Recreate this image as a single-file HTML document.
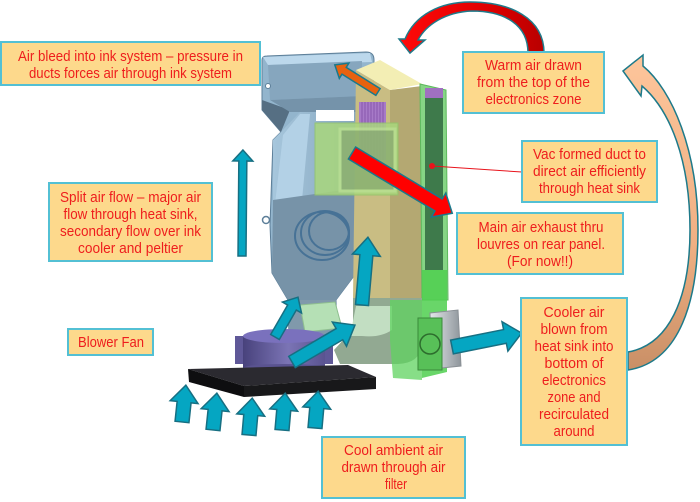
<!DOCTYPE html>
<html><head><meta charset="utf-8">
<style>
html,body{margin:0;padding:0;background:#fff;}
svg{display:block;}
text{font-family:"Liberation Sans",sans-serif;font-size:15px;fill:#ee1d1d;}
</style></head>
<body>
<svg width="700" height="502" viewBox="0 0 700 502" xmlns="http://www.w3.org/2000/svg">
<defs>
<linearGradient id="fanG" x1="0" x2="1" y1="0" y2="0">
<stop offset="0" stop-color="#48427c"/><stop offset="0.55" stop-color="#7b74b5"/><stop offset="1" stop-color="#5a5390"/>
</linearGradient>
<linearGradient id="redG" x1="0" x2="1" y1="0" y2="0">
<stop offset="0" stop-color="#ff0a0a"/><stop offset="0.6" stop-color="#e00000"/><stop offset="1" stop-color="#b80000"/>
</linearGradient>
<linearGradient id="peachG" x1="0" x2="0" y1="0" y2="1">
<stop offset="0" stop-color="#fdc59b"/><stop offset="0.6" stop-color="#f0b083"/><stop offset="1" stop-color="#c98f66"/>
</linearGradient>
<linearGradient id="grayG" x1="0" x2="1" y1="0" y2="0">
<stop offset="0" stop-color="#e4e7ea"/><stop offset="1" stop-color="#8e959b"/>
</linearGradient>
<linearGradient id="bodyG" x1="0" x2="1" y1="0" y2="0">
<stop offset="0" stop-color="#a6c6dc"/><stop offset="1" stop-color="#86a6be"/>
</linearGradient>
</defs>

<!-- Blue housing -->
<path d="M262,60 Q262,56 267,56 L366,52 Q374,52 374,60 L373,100 L357,112 L357,272 L336,300 L337,336 L289,336 L288,300 L272,273 L270,225 L273,140 L281,132 L262,110 Z" fill="#93b5cd" stroke="#5d7f99" stroke-width="1"/>
<polygon points="263,57 370,53 372,62 268,65" fill="#bcd8ec"/>
<polygon points="268,65 362,61 362,96 270,100" fill="#86a6be"/>
<polygon points="262,100 290,110 281,132 262,110" fill="#566f83"/>
<polygon points="270,100 362,96 357,112 290,112" fill="#7593aa"/>
<polygon points="281,132 300,112 357,112 357,195 273,205 273,140" fill="url(#bodyG)"/>
<polygon points="283,135 300,114 310,114 302,200 275,204" fill="#b3d1e6"/>
<polygon points="273,200 357,188 357,272 336,300 288,300 272,273" fill="#7793a8"/>
<polygon points="290,300 336,300 337,336 289,336" fill="#8099ab"/>
<circle cx="266" cy="220" r="3.5" fill="#fff" stroke="#5d7f99" stroke-width="1.5"/>
<circle cx="268" cy="86" r="2.5" fill="#fff" stroke="#5d7f99" stroke-width="1"/>
<rect x="316" y="110" width="38" height="11" fill="#ffffff"/>
<g fill="none" stroke="#3f6d93" stroke-width="2" opacity="0.85">
<ellipse cx="325" cy="233" rx="24" ry="22"/>
<ellipse cx="329" cy="231" rx="20" ry="19"/>
<ellipse cx="322" cy="236" rx="27" ry="24"/>
</g>

<!-- Yellow column -->
<polygon points="356,70 390,90 390,298 353,298" fill="#c9bd83"/>
<polygon points="390,90 422,86 422,298 390,298" fill="#b4a872"/>
<polygon points="356,70 380,60 422,84 390,90" fill="#f3eeb4"/>
<g>
<rect x="359" y="102" width="27" height="58" fill="#a77ac8"/>
<g stroke="#8757ad" stroke-width="1">
<line x1="362" y1="102" x2="362" y2="160"/><line x1="365" y1="102" x2="365" y2="160"/>
<line x1="368" y1="102" x2="368" y2="160"/><line x1="371" y1="102" x2="371" y2="160"/>
<line x1="374" y1="102" x2="374" y2="160"/><line x1="377" y1="102" x2="377" y2="160"/>
<line x1="380" y1="102" x2="380" y2="160"/><line x1="383" y1="102" x2="383" y2="160"/>
</g>
</g>

<!-- Green right panel -->
<polygon points="420,84 446,90 448,300 422,300" fill="#86d585" stroke="#5cb85c" stroke-width="1"/>
<rect x="425" y="88" width="18" height="10" fill="#a070c0"/>
<rect x="425" y="98" width="18" height="172" fill="#3e7a4b"/>

<!-- Elbow -->
<path d="M353,298 L422,298 L422,345 Q420,363 398,364 L340,364 L334,350 L345,338 L353,330 Z" fill="#92a992"/>
<path d="M356,306 L392,306 L392,330 Q380,338 362,336 L350,336 Z" fill="#c2dec2"/>

<!-- lower green translucent -->
<polygon points="422,270 447,270 447,372 422,378" fill="#4fcf4f" opacity="0.85"/>
<polygon points="390,300 422,300 422,380 393,378 390,340" fill="#5fd35f" opacity="0.75"/>

<!-- hopper connector -->
<polygon points="300,305 335,302 342,328 305,332" fill="#b5e0b5" stroke="#8fbf8f" stroke-width="1"/>

<!-- Green duct box -->
<rect x="315" y="123" width="83" height="72" fill="#a9d77d" opacity="0.85" stroke="#93c46a" stroke-width="1"/>
<rect x="340" y="129" width="55" height="62" fill="#7f9e6e" opacity="0.6" stroke="#c0e39a" stroke-width="3"/>

<!-- Blower fan -->
<rect x="235" y="336" width="98" height="28" fill="#5f5898"/>
<rect x="243" y="336" width="82" height="32" fill="url(#fanG)"/>
<ellipse cx="284" cy="368" rx="41" ry="4" fill="#5a5390"/>
<ellipse cx="284" cy="336" rx="41" ry="7" fill="#7a71bd"/>

<!-- Black filter plate -->
<polygon points="188,369 348,365 376,377 244,386" fill="#2b2a30"/>
<polygon points="188,369 244,386 244,397 189,382" fill="#0e0e10"/>
<polygon points="244,386 376,377 376,389 244,397" fill="#18181a"/>

<!-- Exhaust fan -->
<polygon points="430,313 458,310 461,366 432,369" fill="url(#grayG)" stroke="#8a9095" stroke-width="1"/>
<rect x="418" y="318" width="24" height="52" fill="#58c058" stroke="#3a8a3a" stroke-width="1"/>
<circle cx="430" cy="344" r="10" fill="none" stroke="#2d6d2d" stroke-width="1.5"/>

<!-- Blue arrows -->
<g fill="#05a6c2" stroke="#176f82" stroke-width="1.5" stroke-linejoin="miter">
<polygon transform="translate(242,256) rotate(-89.5)" points="0,-4 95,-4 95,-10 106,0 95,10 95,4 0,4"/>
<polygon transform="translate(275,337) rotate(-60)" points="0,-5 34,-5 34,-11 46,0 34,11 34,5 0,5"/>
<polygon transform="translate(292,362) rotate(-30.4)" points="0,-6.5 55,-6.5 55,-14 73,0 55,14 55,6.5 0,6.5"/>
<polygon transform="translate(362,305) rotate(-85)" points="0,-6.5 50,-6.5 50,-14 68,0 50,14 50,6.5 0,6.5"/>
<polygon transform="translate(452,347) rotate(-11.3)" points="0,-7 54,-7 54,-15 71,0 54,15 54,7 0,7"/>
<polygon transform="translate(182,422) rotate(-84)" points="0,-7 20,-7 20,-14 37,0 20,14 20,7 0,7"/>
<polygon transform="translate(213,430) rotate(-84)" points="0,-7 20,-7 20,-14 37,0 20,14 20,7 0,7"/>
<polygon transform="translate(249,435) rotate(-85)" points="0,-7 20,-7 20,-14 37,0 20,14 20,7 0,7"/>
<polygon transform="translate(282,430) rotate(-85)" points="0,-7 20,-7 20,-14 37,0 20,14 20,7 0,7"/>
<polygon transform="translate(315,428) rotate(-85)" points="0,-7 20,-7 20,-14 37,0 20,14 20,7 0,7"/>
</g>

<!-- Orange arrow -->
<polygon transform="translate(378,92) rotate(-147.9)" points="0,-4 40,-4 40,-9 51,0 40,9 40,4 0,4" fill="#e8620f" stroke="#19798c" stroke-width="1.5"/>

<!-- Red straight arrow -->
<polygon transform="translate(352,153) rotate(31)" points="0,-7 101,-7 101,-14 117,0 101,14 101,7 0,7" fill="#ff0000" stroke="#19798c" stroke-width="1.5"/>

<!-- Red curved arrow -->
<path d="M528,53 C528,25 505,11 472,11 C445,12 426,25 418,40 L425,40 L410,53 L399,39 L405,39 C415,15 440,2 470,2 C510,2 544,18 544,53 Z" fill="url(#redG)" stroke="#1f7a8a" stroke-width="1.5"/>

<!-- Peach curved arrow -->
<path d="M623,71 L643,55 L643,66 C672,90 698,150 698,230 C698,300 680,362 628,370 L628,352 C668,345 690,300 690,230 C690,160 670,110 642,86 L641,96 Z" fill="url(#peachG)" stroke="#1d7a8a" stroke-width="1.5"/>

<!-- Leader -->
<line x1="432" y1="166" x2="522" y2="172" stroke="#e8141c" stroke-width="1"/>
<circle cx="432" cy="166" r="3" fill="#e8141c"/>

<!-- Boxes -->
<g fill="#fdd98c" stroke="#53c0d4" stroke-width="2">
<rect x="1" y="42" width="259" height="43"/>
<rect x="49" y="183" width="163" height="78"/>
<rect x="68" y="329" width="85" height="26"/>
<rect x="463" y="52" width="141" height="61"/>
<rect x="522" y="141" width="135" height="61"/>
<rect x="457" y="213" width="166" height="61"/>
<rect x="521" y="298" width="106" height="147"/>
<rect x="322" y="437" width="143" height="61"/>
</g>

<g text-anchor="middle">
<text x="130.5" y="61" textLength="225" lengthAdjust="spacingAndGlyphs">Air bleed into ink system – pressure in</text>
<text x="130.5" y="78" textLength="203" lengthAdjust="spacingAndGlyphs">ducts forces air through ink system</text>

<text x="130.5" y="202" textLength="141" lengthAdjust="spacingAndGlyphs">Split air flow – major air</text>
<text x="130.5" y="219" textLength="134" lengthAdjust="spacingAndGlyphs">flow through heat sink,</text>
<text x="130.5" y="236" textLength="141" lengthAdjust="spacingAndGlyphs">secondary flow over ink</text>
<text x="130.5" y="253" textLength="105" lengthAdjust="spacingAndGlyphs">cooler and peltier</text>

<text x="111" y="347" textLength="66" lengthAdjust="spacingAndGlyphs">Blower Fan</text>

<text x="533.5" y="70" textLength="97" lengthAdjust="spacingAndGlyphs">Warm air drawn</text>
<text x="533.5" y="87" textLength="113" lengthAdjust="spacingAndGlyphs">from the top of the</text>
<text x="533.5" y="104" textLength="96" lengthAdjust="spacingAndGlyphs">electronics zone</text>

<text x="589.5" y="159" textLength="113" lengthAdjust="spacingAndGlyphs">Vac formed duct to</text>
<text x="589.5" y="176" textLength="113" lengthAdjust="spacingAndGlyphs">direct air efficiently</text>
<text x="589.5" y="193" textLength="101" lengthAdjust="spacingAndGlyphs">through heat sink</text>

<text x="541" y="232" textLength="125" lengthAdjust="spacingAndGlyphs">Main air exhaust thru</text>
<text x="541" y="249" textLength="128" lengthAdjust="spacingAndGlyphs">louvres on rear panel.</text>
<text x="540" y="266" textLength="66" lengthAdjust="spacingAndGlyphs">(For now!!)</text>

<text x="574" y="317" textLength="61" lengthAdjust="spacingAndGlyphs">Cooler air</text>
<text x="574" y="334" textLength="67" lengthAdjust="spacingAndGlyphs">blown from</text>
<text x="574" y="351" textLength="79" lengthAdjust="spacingAndGlyphs">heat sink into</text>
<text x="574" y="368" textLength="59" lengthAdjust="spacingAndGlyphs">bottom of</text>
<text x="574" y="385" textLength="64" lengthAdjust="spacingAndGlyphs">electronics</text>
<text x="574" y="402" textLength="53" lengthAdjust="spacingAndGlyphs">zone and</text>
<text x="574" y="419" textLength="70" lengthAdjust="spacingAndGlyphs">recirculated</text>
<text x="574" y="436" textLength="41" lengthAdjust="spacingAndGlyphs">around</text>

<text x="393.5" y="455" textLength="99" lengthAdjust="spacingAndGlyphs">Cool ambient air</text>
<text x="393.5" y="472" textLength="104" lengthAdjust="spacingAndGlyphs">drawn through air</text>
<text x="396" y="489" textLength="22" lengthAdjust="spacingAndGlyphs">filter</text>
</g>
</svg>
</body></html>
